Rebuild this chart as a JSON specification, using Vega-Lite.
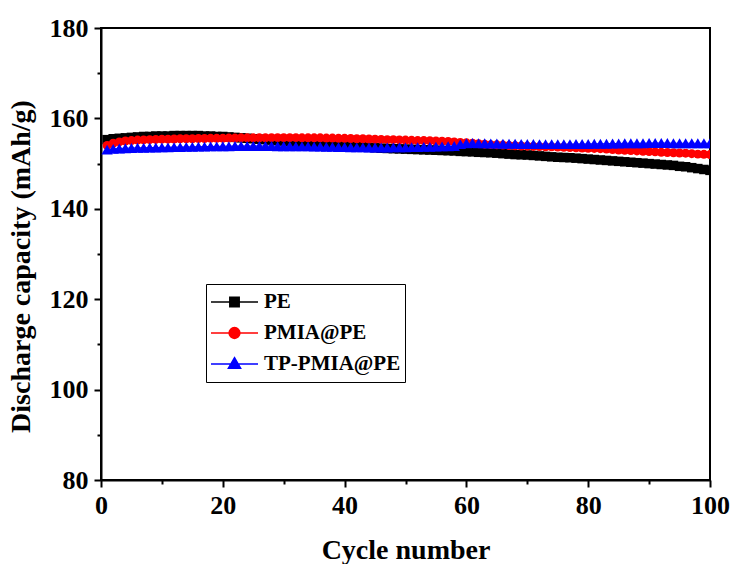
{
"$schema": "https://vega.github.io/schema/vega-lite/v6.json",
"width": 609, "height": 452,
"autosize": {"type": "none"},
"padding": {"left": 101, "top": 28, "right": 23, "bottom": 84},
"background": "white",
"config": {
  "view": {"stroke": "black", "strokeWidth": 2},
  "font": "Liberation Serif, Times New Roman, serif",
  "axis": {"labelFont": "Liberation Serif, Times New Roman, serif", "labelFontWeight": "bold", "labelFontSize": 26, "labelColor": "black",
           "titleFont": "Liberation Serif, Times New Roman, serif", "titleFontWeight": "bold", "titleFontSize": 28, "titleColor": "black",
           "domainColor": "black", "domainWidth": 2, "tickColor": "black", "tickWidth": 2, "grid": false, "labelOverlap": false, "labelFlush": false},
  "legend": {"labelFont": "Liberation Serif, Times New Roman, serif", "labelFontWeight": "bold", "labelFontSize": 21, "labelColor": "black", "symbolStrokeWidth": 1.5}
},
"data": {"values": [
{"cycle":1,"capacity":155.3,"sample":"PE"},{"cycle":2,"capacity":155.5,"sample":"PE"},{"cycle":3,"capacity":155.6,"sample":"PE"},{"cycle":4,"capacity":155.7,"sample":"PE"},{"cycle":5,"capacity":155.8,"sample":"PE"},{"cycle":6,"capacity":155.9,"sample":"PE"},{"cycle":7,"capacity":156.0,"sample":"PE"},{"cycle":8,"capacity":156.0,"sample":"PE"},{"cycle":9,"capacity":156.1,"sample":"PE"},{"cycle":10,"capacity":156.1,"sample":"PE"},
{"cycle":11,"capacity":156.1,"sample":"PE"},{"cycle":12,"capacity":156.2,"sample":"PE"},{"cycle":13,"capacity":156.2,"sample":"PE"},{"cycle":14,"capacity":156.2,"sample":"PE"},{"cycle":15,"capacity":156.2,"sample":"PE"},{"cycle":16,"capacity":156.2,"sample":"PE"},{"cycle":17,"capacity":156.1,"sample":"PE"},{"cycle":18,"capacity":156.1,"sample":"PE"},{"cycle":19,"capacity":156.0,"sample":"PE"},{"cycle":20,"capacity":156.0,"sample":"PE"},
{"cycle":21,"capacity":155.9,"sample":"PE"},{"cycle":22,"capacity":155.8,"sample":"PE"},{"cycle":23,"capacity":155.7,"sample":"PE"},{"cycle":24,"capacity":155.6,"sample":"PE"},{"cycle":25,"capacity":155.5,"sample":"PE"},{"cycle":26,"capacity":155.4,"sample":"PE"},{"cycle":27,"capacity":155.3,"sample":"PE"},{"cycle":28,"capacity":155.2,"sample":"PE"},{"cycle":29,"capacity":155.1,"sample":"PE"},{"cycle":30,"capacity":155.0,"sample":"PE"},
{"cycle":31,"capacity":154.9,"sample":"PE"},{"cycle":32,"capacity":154.8,"sample":"PE"},{"cycle":33,"capacity":154.7,"sample":"PE"},{"cycle":34,"capacity":154.6,"sample":"PE"},{"cycle":35,"capacity":154.5,"sample":"PE"},{"cycle":36,"capacity":154.4,"sample":"PE"},{"cycle":37,"capacity":154.3,"sample":"PE"},{"cycle":38,"capacity":154.2,"sample":"PE"},{"cycle":39,"capacity":154.1,"sample":"PE"},{"cycle":40,"capacity":154.0,"sample":"PE"},
{"cycle":41,"capacity":153.9,"sample":"PE"},{"cycle":42,"capacity":153.8,"sample":"PE"},{"cycle":43,"capacity":153.7,"sample":"PE"},{"cycle":44,"capacity":153.6,"sample":"PE"},{"cycle":45,"capacity":153.5,"sample":"PE"},{"cycle":46,"capacity":153.4,"sample":"PE"},{"cycle":47,"capacity":153.35,"sample":"PE"},{"cycle":48,"capacity":153.3,"sample":"PE"},{"cycle":49,"capacity":153.25,"sample":"PE"},{"cycle":50,"capacity":153.2,"sample":"PE"},
{"cycle":51,"capacity":153.15,"sample":"PE"},{"cycle":52,"capacity":153.1,"sample":"PE"},{"cycle":53,"capacity":153.05,"sample":"PE"},{"cycle":54,"capacity":153.0,"sample":"PE"},{"cycle":55,"capacity":152.95,"sample":"PE"},{"cycle":56,"capacity":152.9,"sample":"PE"},{"cycle":57,"capacity":152.85,"sample":"PE"},{"cycle":58,"capacity":152.8,"sample":"PE"},{"cycle":59,"capacity":152.7,"sample":"PE"},{"cycle":60,"capacity":152.65,"sample":"PE"},
{"cycle":61,"capacity":152.6,"sample":"PE"},{"cycle":62,"capacity":152.5,"sample":"PE"},{"cycle":63,"capacity":152.45,"sample":"PE"},{"cycle":64,"capacity":152.4,"sample":"PE"},{"cycle":65,"capacity":152.3,"sample":"PE"},{"cycle":66,"capacity":152.2,"sample":"PE"},{"cycle":67,"capacity":152.1,"sample":"PE"},{"cycle":68,"capacity":152.0,"sample":"PE"},{"cycle":69,"capacity":151.95,"sample":"PE"},{"cycle":70,"capacity":151.9,"sample":"PE"},
{"cycle":71,"capacity":151.8,"sample":"PE"},{"cycle":72,"capacity":151.7,"sample":"PE"},{"cycle":73,"capacity":151.6,"sample":"PE"},{"cycle":74,"capacity":151.5,"sample":"PE"},{"cycle":75,"capacity":151.4,"sample":"PE"},{"cycle":76,"capacity":151.35,"sample":"PE"},{"cycle":77,"capacity":151.3,"sample":"PE"},{"cycle":78,"capacity":151.2,"sample":"PE"},{"cycle":79,"capacity":151.1,"sample":"PE"},{"cycle":80,"capacity":151.0,"sample":"PE"},
{"cycle":81,"capacity":150.9,"sample":"PE"},{"cycle":82,"capacity":150.8,"sample":"PE"},{"cycle":83,"capacity":150.7,"sample":"PE"},{"cycle":84,"capacity":150.6,"sample":"PE"},{"cycle":85,"capacity":150.5,"sample":"PE"},{"cycle":86,"capacity":150.4,"sample":"PE"},{"cycle":87,"capacity":150.3,"sample":"PE"},{"cycle":88,"capacity":150.2,"sample":"PE"},{"cycle":89,"capacity":150.1,"sample":"PE"},{"cycle":90,"capacity":150.0,"sample":"PE"},
{"cycle":91,"capacity":149.9,"sample":"PE"},{"cycle":92,"capacity":149.8,"sample":"PE"},{"cycle":93,"capacity":149.7,"sample":"PE"},{"cycle":94,"capacity":149.6,"sample":"PE"},{"cycle":95,"capacity":149.4,"sample":"PE"},{"cycle":96,"capacity":149.3,"sample":"PE"},{"cycle":97,"capacity":149.1,"sample":"PE"},{"cycle":98,"capacity":148.9,"sample":"PE"},{"cycle":99,"capacity":148.7,"sample":"PE"},{"cycle":100,"capacity":148.5,"sample":"PE"},
{"cycle":1,"capacity":154.0,"sample":"PMIA@PE"},{"cycle":2,"capacity":154.5,"sample":"PMIA@PE"},{"cycle":3,"capacity":154.8,"sample":"PMIA@PE"},{"cycle":4,"capacity":155.0,"sample":"PMIA@PE"},{"cycle":5,"capacity":155.1,"sample":"PMIA@PE"},{"cycle":6,"capacity":155.2,"sample":"PMIA@PE"},{"cycle":7,"capacity":155.25,"sample":"PMIA@PE"},{"cycle":8,"capacity":155.3,"sample":"PMIA@PE"},{"cycle":9,"capacity":155.35,"sample":"PMIA@PE"},{"cycle":10,"capacity":155.4,"sample":"PMIA@PE"},
{"cycle":11,"capacity":155.4,"sample":"PMIA@PE"},{"cycle":12,"capacity":155.45,"sample":"PMIA@PE"},{"cycle":13,"capacity":155.5,"sample":"PMIA@PE"},{"cycle":14,"capacity":155.5,"sample":"PMIA@PE"},{"cycle":15,"capacity":155.5,"sample":"PMIA@PE"},{"cycle":16,"capacity":155.55,"sample":"PMIA@PE"},{"cycle":17,"capacity":155.55,"sample":"PMIA@PE"},{"cycle":18,"capacity":155.6,"sample":"PMIA@PE"},{"cycle":19,"capacity":155.6,"sample":"PMIA@PE"},{"cycle":20,"capacity":155.6,"sample":"PMIA@PE"},
{"cycle":21,"capacity":155.65,"sample":"PMIA@PE"},{"cycle":22,"capacity":155.65,"sample":"PMIA@PE"},{"cycle":23,"capacity":155.7,"sample":"PMIA@PE"},{"cycle":24,"capacity":155.7,"sample":"PMIA@PE"},{"cycle":25,"capacity":155.7,"sample":"PMIA@PE"},{"cycle":26,"capacity":155.7,"sample":"PMIA@PE"},{"cycle":27,"capacity":155.7,"sample":"PMIA@PE"},{"cycle":28,"capacity":155.75,"sample":"PMIA@PE"},{"cycle":29,"capacity":155.75,"sample":"PMIA@PE"},{"cycle":30,"capacity":155.75,"sample":"PMIA@PE"},
{"cycle":31,"capacity":155.75,"sample":"PMIA@PE"},{"cycle":32,"capacity":155.75,"sample":"PMIA@PE"},{"cycle":33,"capacity":155.7,"sample":"PMIA@PE"},{"cycle":34,"capacity":155.7,"sample":"PMIA@PE"},{"cycle":35,"capacity":155.7,"sample":"PMIA@PE"},{"cycle":36,"capacity":155.7,"sample":"PMIA@PE"},{"cycle":37,"capacity":155.65,"sample":"PMIA@PE"},{"cycle":38,"capacity":155.65,"sample":"PMIA@PE"},{"cycle":39,"capacity":155.6,"sample":"PMIA@PE"},{"cycle":40,"capacity":155.6,"sample":"PMIA@PE"},
{"cycle":41,"capacity":155.55,"sample":"PMIA@PE"},{"cycle":42,"capacity":155.5,"sample":"PMIA@PE"},{"cycle":43,"capacity":155.5,"sample":"PMIA@PE"},{"cycle":44,"capacity":155.45,"sample":"PMIA@PE"},{"cycle":45,"capacity":155.4,"sample":"PMIA@PE"},{"cycle":46,"capacity":155.35,"sample":"PMIA@PE"},{"cycle":47,"capacity":155.3,"sample":"PMIA@PE"},{"cycle":48,"capacity":155.3,"sample":"PMIA@PE"},{"cycle":49,"capacity":155.25,"sample":"PMIA@PE"},{"cycle":50,"capacity":155.2,"sample":"PMIA@PE"},
{"cycle":51,"capacity":155.15,"sample":"PMIA@PE"},{"cycle":52,"capacity":155.1,"sample":"PMIA@PE"},{"cycle":53,"capacity":155.1,"sample":"PMIA@PE"},{"cycle":54,"capacity":155.05,"sample":"PMIA@PE"},{"cycle":55,"capacity":155.0,"sample":"PMIA@PE"},{"cycle":56,"capacity":154.95,"sample":"PMIA@PE"},{"cycle":57,"capacity":154.9,"sample":"PMIA@PE"},{"cycle":58,"capacity":154.8,"sample":"PMIA@PE"},{"cycle":59,"capacity":154.7,"sample":"PMIA@PE"},{"cycle":60,"capacity":154.6,"sample":"PMIA@PE"},
{"cycle":61,"capacity":154.5,"sample":"PMIA@PE"},{"cycle":62,"capacity":154.4,"sample":"PMIA@PE"},{"cycle":63,"capacity":154.3,"sample":"PMIA@PE"},{"cycle":64,"capacity":154.2,"sample":"PMIA@PE"},{"cycle":65,"capacity":154.15,"sample":"PMIA@PE"},{"cycle":66,"capacity":154.1,"sample":"PMIA@PE"},{"cycle":67,"capacity":154.0,"sample":"PMIA@PE"},{"cycle":68,"capacity":153.95,"sample":"PMIA@PE"},{"cycle":69,"capacity":153.9,"sample":"PMIA@PE"},{"cycle":70,"capacity":153.85,"sample":"PMIA@PE"},
{"cycle":71,"capacity":153.8,"sample":"PMIA@PE"},{"cycle":72,"capacity":153.75,"sample":"PMIA@PE"},{"cycle":73,"capacity":153.7,"sample":"PMIA@PE"},{"cycle":74,"capacity":153.7,"sample":"PMIA@PE"},{"cycle":75,"capacity":153.65,"sample":"PMIA@PE"},{"cycle":76,"capacity":153.6,"sample":"PMIA@PE"},{"cycle":77,"capacity":153.55,"sample":"PMIA@PE"},{"cycle":78,"capacity":153.5,"sample":"PMIA@PE"},{"cycle":79,"capacity":153.45,"sample":"PMIA@PE"},{"cycle":80,"capacity":153.4,"sample":"PMIA@PE"},
{"cycle":81,"capacity":153.35,"sample":"PMIA@PE"},{"cycle":82,"capacity":153.3,"sample":"PMIA@PE"},{"cycle":83,"capacity":153.2,"sample":"PMIA@PE"},{"cycle":84,"capacity":153.1,"sample":"PMIA@PE"},{"cycle":85,"capacity":153.0,"sample":"PMIA@PE"},{"cycle":86,"capacity":152.95,"sample":"PMIA@PE"},{"cycle":87,"capacity":152.9,"sample":"PMIA@PE"},{"cycle":88,"capacity":152.8,"sample":"PMIA@PE"},{"cycle":89,"capacity":152.7,"sample":"PMIA@PE"},{"cycle":90,"capacity":152.65,"sample":"PMIA@PE"},
{"cycle":91,"capacity":152.6,"sample":"PMIA@PE"},{"cycle":92,"capacity":152.5,"sample":"PMIA@PE"},{"cycle":93,"capacity":152.45,"sample":"PMIA@PE"},{"cycle":94,"capacity":152.4,"sample":"PMIA@PE"},{"cycle":95,"capacity":152.35,"sample":"PMIA@PE"},{"cycle":96,"capacity":152.3,"sample":"PMIA@PE"},{"cycle":97,"capacity":152.2,"sample":"PMIA@PE"},{"cycle":98,"capacity":152.1,"sample":"PMIA@PE"},{"cycle":99,"capacity":152.05,"sample":"PMIA@PE"},{"cycle":100,"capacity":152.0,"sample":"PMIA@PE"},
{"cycle":1,"capacity":153.1,"sample":"TP-PMIA@PE"},{"cycle":2,"capacity":153.25,"sample":"TP-PMIA@PE"},{"cycle":3,"capacity":153.35,"sample":"TP-PMIA@PE"},{"cycle":4,"capacity":153.4,"sample":"TP-PMIA@PE"},{"cycle":5,"capacity":153.45,"sample":"TP-PMIA@PE"},{"cycle":6,"capacity":153.5,"sample":"TP-PMIA@PE"},{"cycle":7,"capacity":153.5,"sample":"TP-PMIA@PE"},{"cycle":8,"capacity":153.55,"sample":"TP-PMIA@PE"},{"cycle":9,"capacity":153.55,"sample":"TP-PMIA@PE"},{"cycle":10,"capacity":153.6,"sample":"TP-PMIA@PE"},
{"cycle":11,"capacity":153.6,"sample":"TP-PMIA@PE"},{"cycle":12,"capacity":153.65,"sample":"TP-PMIA@PE"},{"cycle":13,"capacity":153.65,"sample":"TP-PMIA@PE"},{"cycle":14,"capacity":153.7,"sample":"TP-PMIA@PE"},{"cycle":15,"capacity":153.7,"sample":"TP-PMIA@PE"},{"cycle":16,"capacity":153.75,"sample":"TP-PMIA@PE"},{"cycle":17,"capacity":153.75,"sample":"TP-PMIA@PE"},{"cycle":18,"capacity":153.8,"sample":"TP-PMIA@PE"},{"cycle":19,"capacity":153.8,"sample":"TP-PMIA@PE"},{"cycle":20,"capacity":153.85,"sample":"TP-PMIA@PE"},
{"cycle":21,"capacity":153.85,"sample":"TP-PMIA@PE"},{"cycle":22,"capacity":153.9,"sample":"TP-PMIA@PE"},{"cycle":23,"capacity":153.9,"sample":"TP-PMIA@PE"},{"cycle":24,"capacity":153.9,"sample":"TP-PMIA@PE"},{"cycle":25,"capacity":153.9,"sample":"TP-PMIA@PE"},{"cycle":26,"capacity":153.9,"sample":"TP-PMIA@PE"},{"cycle":27,"capacity":153.9,"sample":"TP-PMIA@PE"},{"cycle":28,"capacity":153.9,"sample":"TP-PMIA@PE"},{"cycle":29,"capacity":153.85,"sample":"TP-PMIA@PE"},{"cycle":30,"capacity":153.85,"sample":"TP-PMIA@PE"},
{"cycle":31,"capacity":153.85,"sample":"TP-PMIA@PE"},{"cycle":32,"capacity":153.8,"sample":"TP-PMIA@PE"},{"cycle":33,"capacity":153.8,"sample":"TP-PMIA@PE"},{"cycle":34,"capacity":153.8,"sample":"TP-PMIA@PE"},{"cycle":35,"capacity":153.75,"sample":"TP-PMIA@PE"},{"cycle":36,"capacity":153.75,"sample":"TP-PMIA@PE"},{"cycle":37,"capacity":153.7,"sample":"TP-PMIA@PE"},{"cycle":38,"capacity":153.7,"sample":"TP-PMIA@PE"},{"cycle":39,"capacity":153.65,"sample":"TP-PMIA@PE"},{"cycle":40,"capacity":153.65,"sample":"TP-PMIA@PE"},
{"cycle":41,"capacity":153.6,"sample":"TP-PMIA@PE"},{"cycle":42,"capacity":153.6,"sample":"TP-PMIA@PE"},{"cycle":43,"capacity":153.6,"sample":"TP-PMIA@PE"},{"cycle":44,"capacity":153.55,"sample":"TP-PMIA@PE"},{"cycle":45,"capacity":153.55,"sample":"TP-PMIA@PE"},{"cycle":46,"capacity":153.55,"sample":"TP-PMIA@PE"},{"cycle":47,"capacity":153.55,"sample":"TP-PMIA@PE"},{"cycle":48,"capacity":153.6,"sample":"TP-PMIA@PE"},{"cycle":49,"capacity":153.6,"sample":"TP-PMIA@PE"},{"cycle":50,"capacity":153.6,"sample":"TP-PMIA@PE"},
{"cycle":51,"capacity":153.65,"sample":"TP-PMIA@PE"},{"cycle":52,"capacity":153.65,"sample":"TP-PMIA@PE"},{"cycle":53,"capacity":153.7,"sample":"TP-PMIA@PE"},{"cycle":54,"capacity":153.7,"sample":"TP-PMIA@PE"},{"cycle":55,"capacity":153.75,"sample":"TP-PMIA@PE"},{"cycle":56,"capacity":153.8,"sample":"TP-PMIA@PE"},{"cycle":57,"capacity":153.85,"sample":"TP-PMIA@PE"},{"cycle":58,"capacity":153.9,"sample":"TP-PMIA@PE"},{"cycle":59,"capacity":154.3,"sample":"TP-PMIA@PE"},{"cycle":60,"capacity":154.5,"sample":"TP-PMIA@PE"},
{"cycle":61,"capacity":154.55,"sample":"TP-PMIA@PE"},{"cycle":62,"capacity":154.5,"sample":"TP-PMIA@PE"},{"cycle":63,"capacity":154.5,"sample":"TP-PMIA@PE"},{"cycle":64,"capacity":154.45,"sample":"TP-PMIA@PE"},{"cycle":65,"capacity":154.45,"sample":"TP-PMIA@PE"},{"cycle":66,"capacity":154.4,"sample":"TP-PMIA@PE"},{"cycle":67,"capacity":154.4,"sample":"TP-PMIA@PE"},{"cycle":68,"capacity":154.4,"sample":"TP-PMIA@PE"},{"cycle":69,"capacity":154.35,"sample":"TP-PMIA@PE"},{"cycle":70,"capacity":154.35,"sample":"TP-PMIA@PE"},
{"cycle":71,"capacity":154.35,"sample":"TP-PMIA@PE"},{"cycle":72,"capacity":154.3,"sample":"TP-PMIA@PE"},{"cycle":73,"capacity":154.3,"sample":"TP-PMIA@PE"},{"cycle":74,"capacity":154.3,"sample":"TP-PMIA@PE"},{"cycle":75,"capacity":154.3,"sample":"TP-PMIA@PE"},{"cycle":76,"capacity":154.3,"sample":"TP-PMIA@PE"},{"cycle":77,"capacity":154.3,"sample":"TP-PMIA@PE"},{"cycle":78,"capacity":154.35,"sample":"TP-PMIA@PE"},{"cycle":79,"capacity":154.35,"sample":"TP-PMIA@PE"},{"cycle":80,"capacity":154.35,"sample":"TP-PMIA@PE"},
{"cycle":81,"capacity":154.4,"sample":"TP-PMIA@PE"},{"cycle":82,"capacity":154.4,"sample":"TP-PMIA@PE"},{"cycle":83,"capacity":154.4,"sample":"TP-PMIA@PE"},{"cycle":84,"capacity":154.45,"sample":"TP-PMIA@PE"},{"cycle":85,"capacity":154.45,"sample":"TP-PMIA@PE"},{"cycle":86,"capacity":154.5,"sample":"TP-PMIA@PE"},{"cycle":87,"capacity":154.5,"sample":"TP-PMIA@PE"},{"cycle":88,"capacity":154.5,"sample":"TP-PMIA@PE"},{"cycle":89,"capacity":154.5,"sample":"TP-PMIA@PE"},{"cycle":90,"capacity":154.55,"sample":"TP-PMIA@PE"},
{"cycle":91,"capacity":154.55,"sample":"TP-PMIA@PE"},{"cycle":92,"capacity":154.55,"sample":"TP-PMIA@PE"},{"cycle":93,"capacity":154.55,"sample":"TP-PMIA@PE"},{"cycle":94,"capacity":154.5,"sample":"TP-PMIA@PE"},{"cycle":95,"capacity":154.5,"sample":"TP-PMIA@PE"},{"cycle":96,"capacity":154.5,"sample":"TP-PMIA@PE"},{"cycle":97,"capacity":154.5,"sample":"TP-PMIA@PE"},{"cycle":98,"capacity":154.5,"sample":"TP-PMIA@PE"},{"cycle":99,"capacity":154.5,"sample":"TP-PMIA@PE"},{"cycle":100,"capacity":154.5,"sample":"TP-PMIA@PE"}
]},
"encoding": {
  "x": {"field": "cycle", "type": "quantitative", "scale": {"domain": [0, 100], "nice": false, "zero": false},
        "axis": {"title": "Cycle number", "values": [0,10,20,30,40,50,60,70,80,90,100],
                 "labelExpr": "datum.value % 20 === 0 ? datum.label : ''",
                 "tickSize": {"condition": {"test": "datum.value % 20 === 0", "value": 7}, "value": 4},
                 "labelPadding": 5, "titlePadding": 18}},
  "y": {"field": "capacity", "type": "quantitative", "scale": {"domain": [80, 180], "nice": false, "zero": false},
        "axis": {"title": "Discharge capacity (mAh/g)", "values": [80,90,100,110,120,130,140,150,160,170,180],
                 "labelExpr": "datum.value % 20 === 0 ? datum.label : ''",
                 "tickSize": {"condition": {"test": "datum.value % 20 === 0", "value": 7}, "value": 4},
                 "labelPadding": 6, "titlePadding": 14, "titleY": 238}},
  "color": {"field": "sample", "type": "nominal",
            "scale": {"domain": ["PE", "PMIA@PE", "TP-PMIA@PE"], "range": ["#000000", "#ff0000", "#0000ff"]},
            "legend": {"title": null, "orient": "none", "legendX": 105, "legendY": 256, "padding": 4,
                       "strokeColor": "black", "clipHeight": 28, "rowPadding": 3,
                       "symbolSize": 2209, "labelOffset": 5,
                       "encode": {"symbols": {"update": {
                          "shape": {"signal": "datum.value === 'PE' ? 'M-1,0H1M-0.2,-0.2H0.2V0.2H-0.2Z' : datum.value === 'PMIA@PE' ? 'M-1,0H1M-0.23,0A0.23,0.23 0 1,0 0.23,0A0.23,0.23 0 1,0 -0.23,0Z' : 'M-1,0H1M0,-0.27L0.26,0.18L-0.26,0.18Z'"},
                          "fill": {"signal": "scale('color', datum.value)"},
                          "stroke": {"signal": "scale('color', datum.value)"}}}}}}
},
"layer": [
  {"mark": {"type": "line", "strokeWidth": 1, "clip": true}, "encoding": {"detail": {"field": "sample"}}},
  {"transform": [{"filter": "datum.sample === 'PE'"}],
   "mark": {"type": "point", "filled": true, "opacity": 1, "size": 90, "shape": "square", "clip": true}},
  {"transform": [{"filter": "datum.sample === 'PMIA@PE'"}],
   "mark": {"type": "point", "filled": true, "opacity": 1, "size": 80, "shape": "circle", "clip": true}},
  {"transform": [{"filter": "datum.sample === 'TP-PMIA@PE'"}],
   "mark": {"type": "point", "filled": true, "opacity": 1, "size": 130, "shape": "triangle-up", "clip": true}}
]
}
